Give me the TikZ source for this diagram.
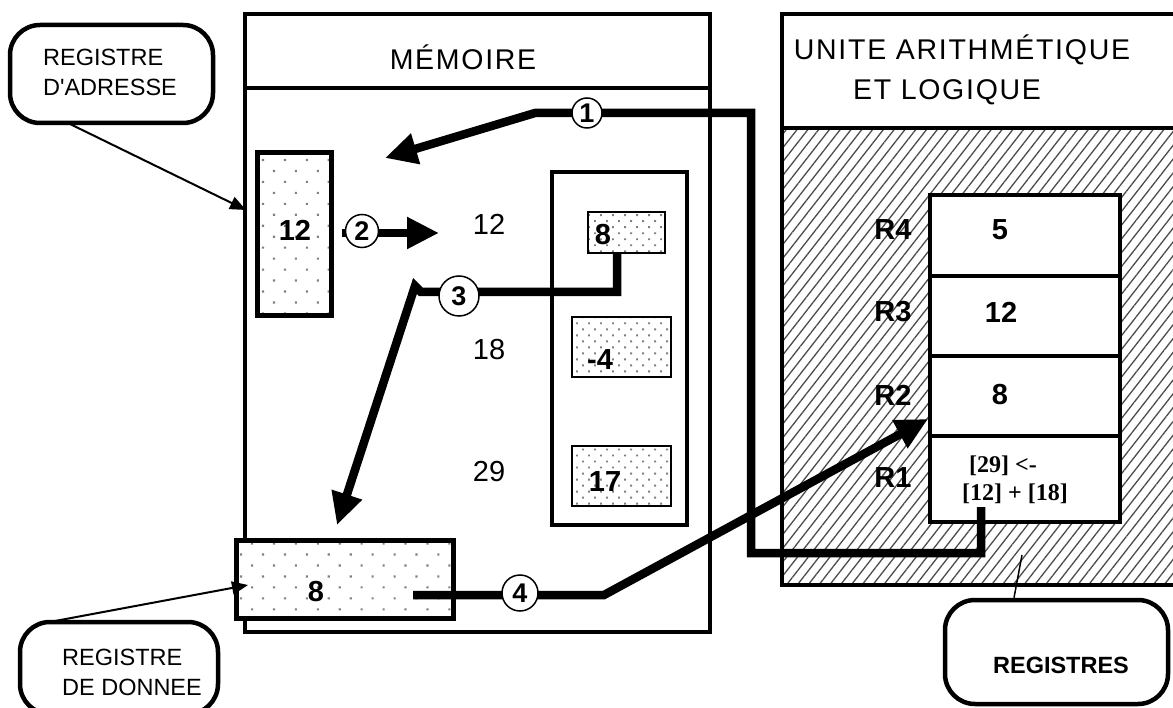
\documentclass[tikz,border=0pt]{standalone}
\usepackage{fontspec}
\setmainfont{Liberation Sans}[Ligatures=TeXOff]
\newfontfamily\serifb{Liberation Serif}
\newfontfamily\hdr{Liberation Sans}[LetterSpace=6]
\usetikzlibrary{arrows.meta,patterns.meta}
\begin{document}
\begin{tikzpicture}[x=1pt,y=-1pt,
 frame/.style={draw,line width=4.5pt},
 regbox/.style={draw,line width=4.5pt,fill=white,inner sep=0pt,minimum width=190pt},
 bigdots/.style={preaction={fill=white},pattern={Dots[distance=15.5pt,angle=45,radius=1.5pt]},pattern color=black!50},
 smalldots/.style={preaction={fill=white},pattern={Dots[distance=8.5pt,angle=45,radius=1.3pt]},pattern color=black!50},
 flow/.style={line width=8.5pt,-{Triangle[length=32pt,width=30pt]},line join=miter},
 leader/.style={line width=2pt,-{Triangle[length=16pt,width=13pt]}},
 num/.style={circle,draw,line width=1.5pt,fill=white,inner sep=0pt,font=\fontsize{27}{27}\selectfont\bfseries},
 callout/.style={draw,line width=4.5pt,rounded corners=30pt,fill=white,inner sep=0pt},
 lbl/.style={inner sep=0pt,font=\fontsize{29}{29}\selectfont},
 blbl/.style={inner sep=0pt,font=\fontsize{29}{29}\selectfont\bfseries},
 ctext/.style={inner sep=0pt,align=left,font=\fontsize{23.5}{30}\selectfont},
]
\useasboundingbox (0,0) rectangle (1173,708);

% ---------- ALU ----------
\path[pattern={Lines[angle=52,distance=8.5pt,line width=1.3pt]},pattern color=black!70]
  (782,128) rectangle (1180,585);
\draw[frame] (1180,14) -- (782,14) -- (782,585) -- (1180,585);
\draw[frame] (782,128) -- (1180,128);
\node[inner sep=0pt,font=\hdr\fontsize{28.5}{28.5}\selectfont] (alu1) at (962,50) {UNITE ARITHMÉTIQUE};
\node[inner sep=0pt,font=\hdr\fontsize{28.5}{28.5}\selectfont] (alu2) at (947,92) {ET LOGIQUE};

\node[regbox,minimum height=81pt] (r4) at (1025,235.5) {};
\node[regbox,minimum height=80pt] (r3) at (1025,316) {};
\node[regbox,minimum height=80pt] (r2) at (1025,396) {};
\node[regbox,minimum height=86pt] (r1) at (1025,479) {};
\node[blbl] (lr4) at (893,230) {R4};
\node[blbl] (lr3) at (893,312) {R3};
\node[blbl] (lr2) at (893,395) {R2};
\node[blbl] (lr1) at (893,478) {R1};
\node[blbl] (v4) at (1000,230) {5};
\node[blbl] (v3) at (1001,312) {12};
\node[blbl] (v2) at (1000,395) {8};
\node[inner sep=0pt,font=\serifb\bfseries\fontsize{24}{24}\selectfont] (r1a) at (1003,466) {[29] <-};
\node[inner sep=0pt,font=\serifb\bfseries\fontsize{24}{24}\selectfont] (r1b) at (1015,494) {[12] + [18]};

% ---------- MEMORY ----------
\draw[frame] (245,14) rectangle (710,632);
\draw[frame] (245,88) -- (710,88);
\node[inner sep=0pt,font=\hdr\fontsize{28.5}{28.5}\selectfont] (memt) at (463,57) {MÉMOIRE};
\draw[line width=4.5pt] (552,172) rectangle (687,525);

\node[draw,line width=2.5pt,smalldots,inner sep=0pt,minimum width=77pt,minimum height=41pt] (c12) at (626.5,232.5) {};
\node[draw,line width=2.5pt,smalldots,inner sep=0pt,minimum width=99pt,minimum height=60pt] (c18) at (621.5,347) {};
\node[draw,line width=2.5pt,smalldots,inner sep=0pt,minimum width=99pt,minimum height=60pt] (c29) at (621.5,476) {};
\node[blbl] (m12) at (603,235) {8};
\node[blbl] (m18) at (600,360) {-4};
\node[blbl] (m29) at (605,482) {17};

\node[lbl] (a12) at (489,224) {12};
\node[lbl] (a18) at (489,350) {18};
\node[lbl] (a29) at (489,472) {29};

\node[draw,line width=5pt,bigdots,inner sep=0pt,minimum width=74pt,minimum height=163pt] (adr) at (294,234.5) {};
\node[blbl] (adrv) at (295,230) {12};

\node[draw,line width=5pt,bigdots,inner sep=0pt,minimum width=217pt,minimum height=78pt] (data) at (344.5,579) {};
\node[blbl] (datav) at (316,592) {8};

% ---------- connectors ----------
\coordinate (a1s) at (981,507);
\coordinate (a1e) at (385,158);
\coordinate (a2s) at (342,233);
\coordinate (a2e) at (439,233);
\coordinate (a3s) at (617,253);
\coordinate (a3e) at (337,525);
\coordinate (a4s) at (413,595);
\coordinate (a4e) at (928,419);

\draw[flow] (a1s) -- (981,553) -- (751,553) -- (751,113) -- (535,113) -- (a1e);
\draw[flow] (a2s) -- (a2e);
\draw[flow] (a3s) -- (617,292) -- (421,292) -- (415,286) -- (a3e);
\draw[flow] (a4s) -- (604,595) -- (a4e);

\node[num,minimum size=30pt] (n1) at (587,113) {1};
\node[num,minimum size=33pt] (n2) at (362,231) {2};
\node[num,minimum size=40pt] (n3) at (459,296) {3};
\node[num,minimum size=36pt] (n4) at (520,593) {4};

% ---------- callouts ----------
\node[callout,minimum width=203pt,minimum height=98pt] (ra) at (111.5,74) {};
\node[ctext] (rat) at (110,72) {REGISTRE\\D'ADRESSE};
\node[callout,minimum width=198pt,minimum height=92pt] (rd) at (119,668) {};
\node[ctext] (rdt) at (132,672) {REGISTRE\\DE DONNEE};
\node[callout,minimum width=223pt,minimum height=104pt] (rg) at (1056.5,652) {};
\node[inner sep=0pt,font=\fontsize{23.5}{23.5}\selectfont\bfseries] (rgt) at (1061,665) {REGISTRES};

\coordinate (ras) at (70,124);
\coordinate (rae) at (246,210);
\coordinate (rds) at (55,621);
\coordinate (rde) at (248,585);
\coordinate (rgs) at (1022,555);
\draw[leader] (ras) -- (rae);
\draw[leader] (rds) -- (rde);
\draw[line width=1.5pt] (rgs) -- (rg.north -| 1014,0);
\end{tikzpicture}
\end{document}
